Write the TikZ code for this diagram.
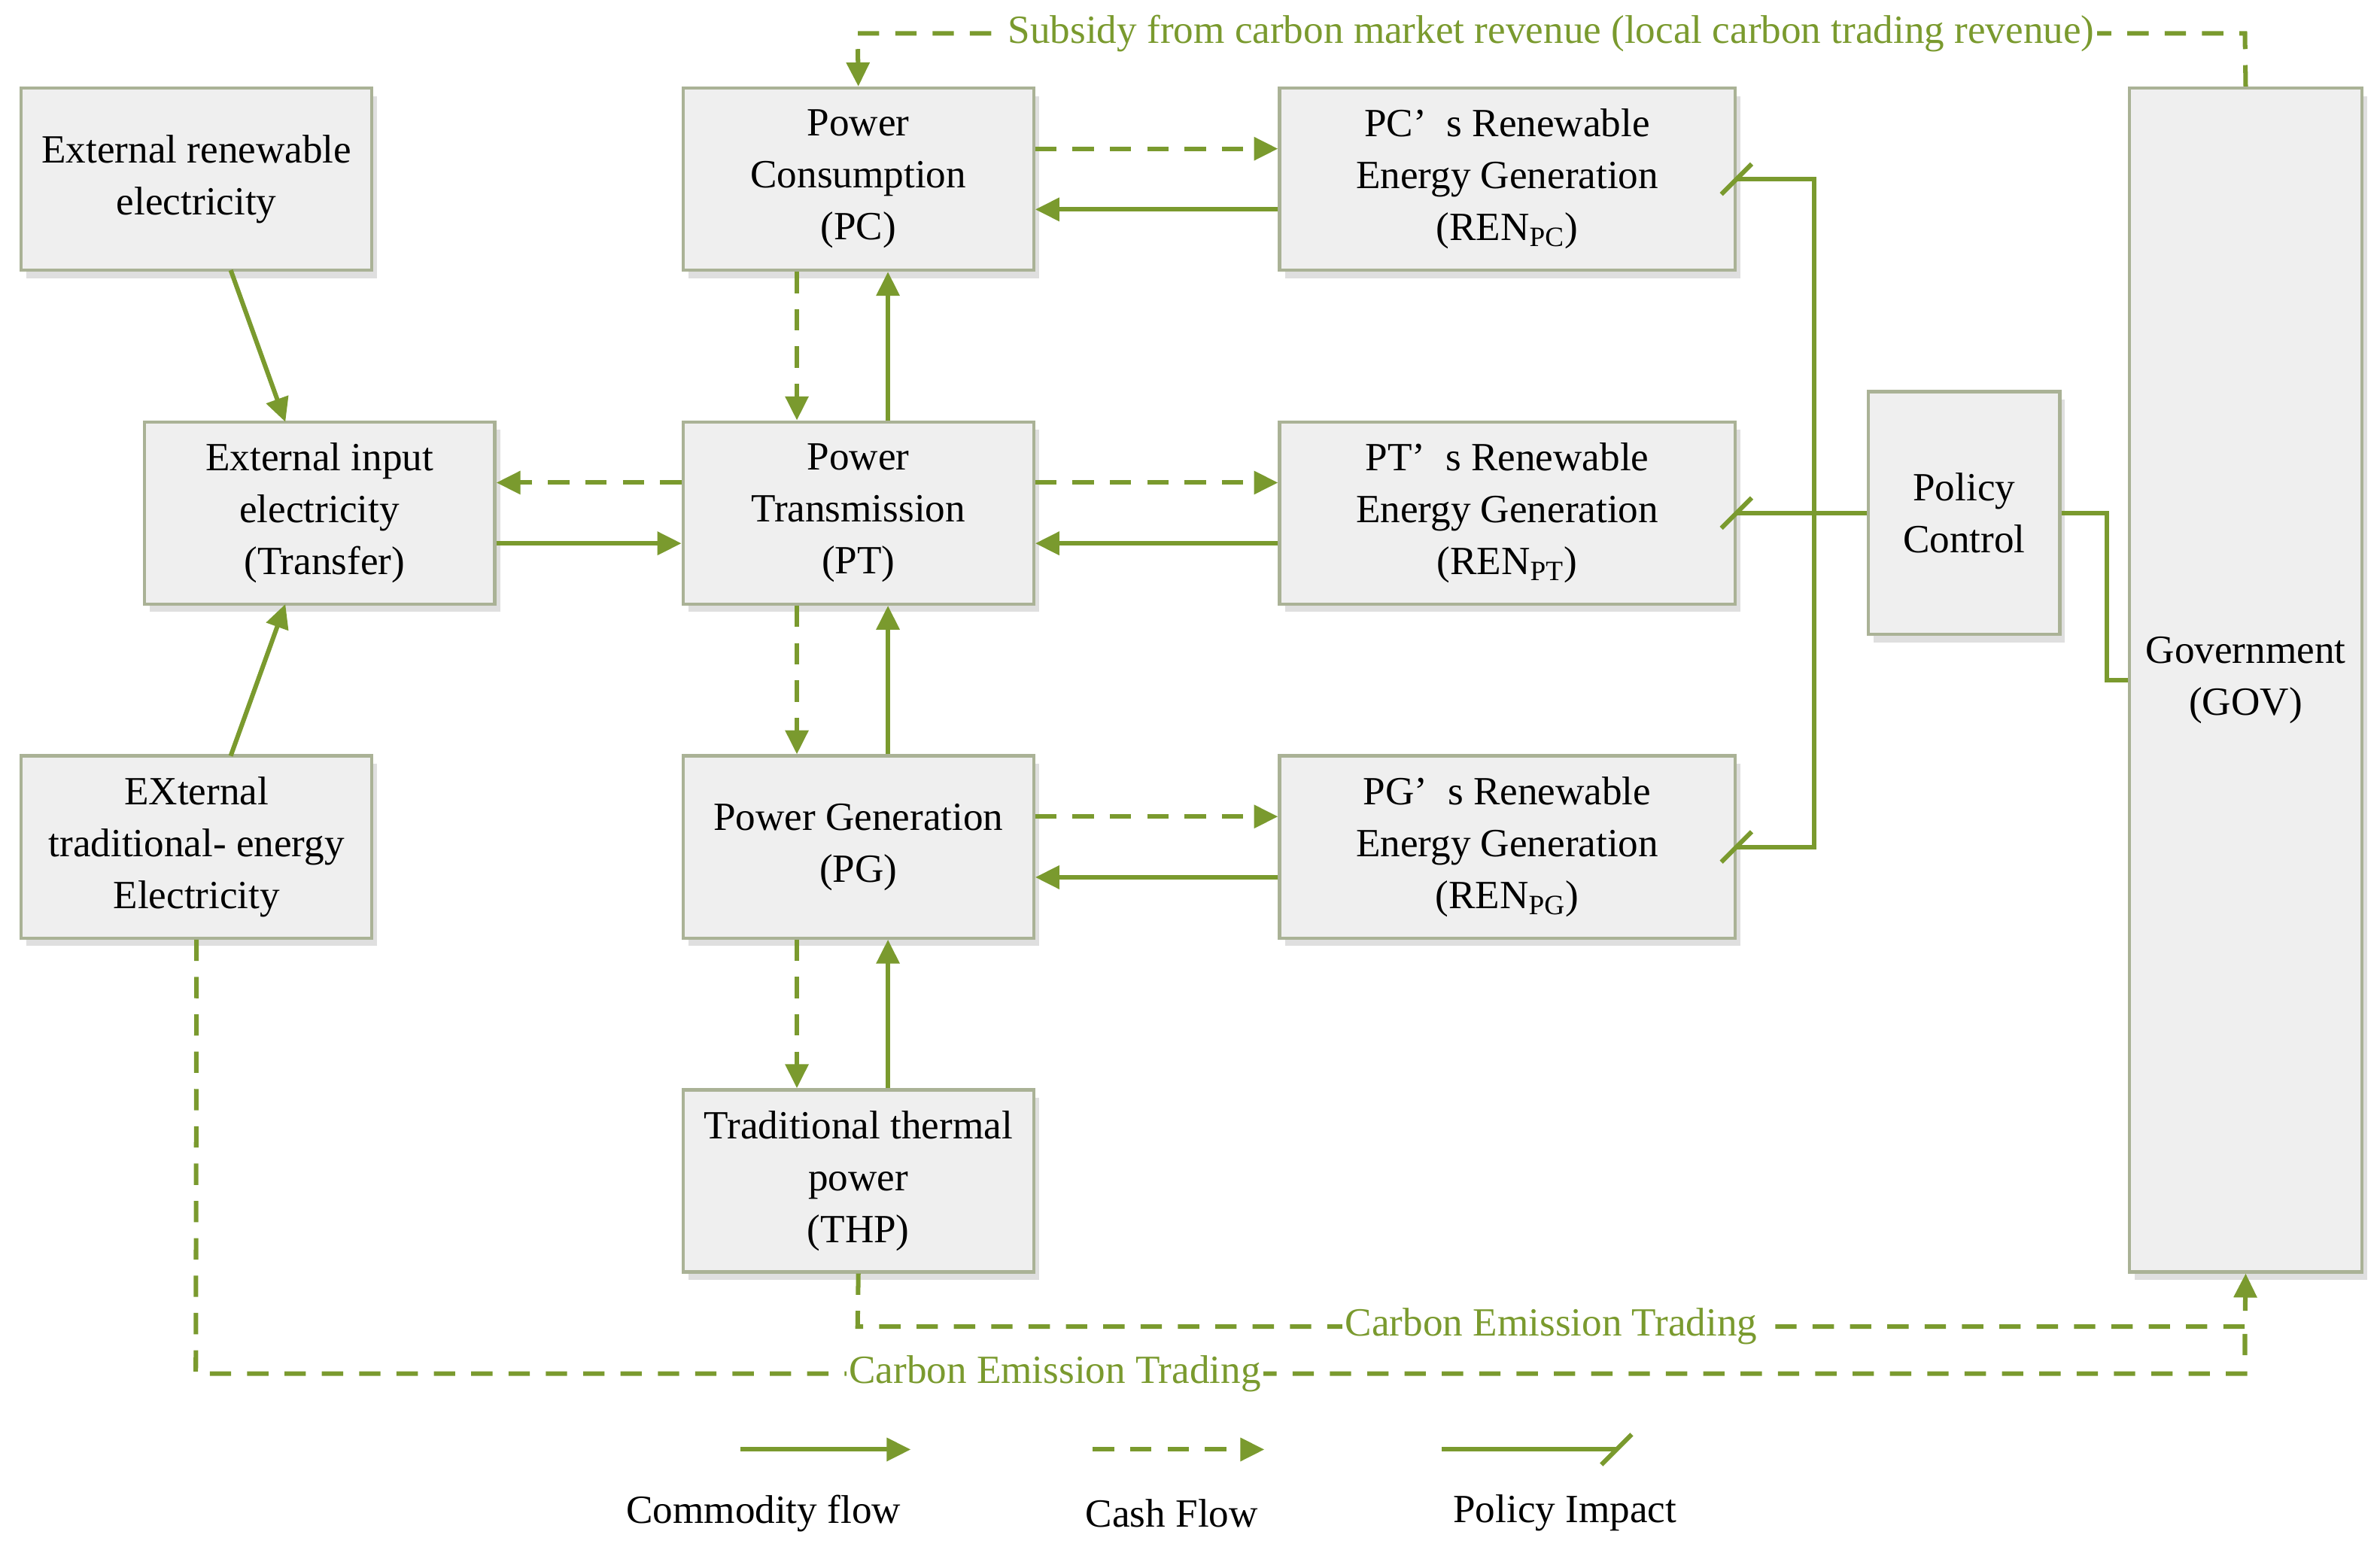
\documentclass[tikz,border=0pt]{standalone}
\usepackage{fontspec}
\setmainfont{Liberation Serif}
\usetikzlibrary{arrows.meta,shadows}
\definecolor{olive}{RGB}{122,154,46}
\definecolor{boxfill}{RGB}{239,239,239}
\definecolor{boxline}{RGB}{170,178,150}
\tikzset{
  blk/.style={draw=boxline, line width=1.2pt, fill=boxfill, align=center, inner sep=0pt,
    drop shadow={shadow xshift=2pt, shadow yshift=-3pt, opacity=.25},
    font=\fontsize{15}{19.5}\selectfont},
  flow/.style={olive, line width=1.7pt, -{Triangle[length=9pt,width=8.5pt]}},
  cash/.style={flow, dash pattern=on 8pt off 6pt},
  pol/.style={olive, line width=1.7pt},
  lbl/.style={olive, fill=white, inner sep=1pt, font=\fontsize{15}{18}\selectfont},
}
\newcommand{\polbar}[1]{\draw[pol] (#1) ++(-10,10) -- ++(20,-20);}
\begin{document}
\begin{tikzpicture}[x=0.02cm, y=-0.02cm]
    \useasboundingbox (0,0) rectangle (1568,1027);
    % boxes
    \node[blk, minimum width=231*0.02cm, minimum height=120*0.02cm] (extren) at (129.5,118) {External renewable\\electricity};
    \node[blk, minimum width=231*0.02cm, minimum height=120*0.02cm] (transfer) at (210.5,338) {External input\\electricity\\\ (Transfer)\ };
    \node[blk, minimum width=231*0.02cm, minimum height=120*0.02cm] (exttrad) at (129.5,558) {EXternal\\traditional- energy\\Electricity};
    \node[blk, minimum width=231*0.02cm, minimum height=120*0.02cm] (pc) at (565.5,118) {Power\\Consumption\\(PC)};
    \node[blk, minimum width=231*0.02cm, minimum height=120*0.02cm] (pt) at (565.5,338) {Power\\Transmission\\(PT)};
    \node[blk, minimum width=231*0.02cm, minimum height=120*0.02cm] (pg) at (565.5,558) {Power Generation\\(PG)};
    \node[blk, minimum width=231*0.02cm, minimum height=120*0.02cm] (thp) at (565.5,778) {Traditional thermal\\power\\(THP)};
    \node[blk, minimum width=300*0.02cm, minimum height=120*0.02cm] (renpc) at (993,118) {PC’\ \ s Renewable\\Energy Generation\\(REN\textsubscript{PC})};
    \node[blk, minimum width=300*0.02cm, minimum height=120*0.02cm] (renpt) at (993,338) {PT’\ \ s Renewable\\Energy Generation\\(REN\textsubscript{PT})};
    \node[blk, minimum width=300*0.02cm, minimum height=120*0.02cm] (renpg) at (993,558) {PG’\ \ s Renewable\\Energy Generation\\(REN\textsubscript{PG})};
    \node[blk, minimum width=126*0.02cm, minimum height=160*0.02cm] (policy) at (1294,338) {Policy\\Control};
    \node[blk, minimum width=153*0.02cm, minimum height=780*0.02cm] (gov) at (1479.5,448) {Government\\(GOV)};

    % commodity and cash flows
    \draw[flow] (152,178) -- (188,278);
    \draw[flow] (152,498) -- (188,398);
    \draw[flow] (transfer.east |- 0,358) -- (pt.west |- 0,358);
    \draw[cash] (pt.west |- 0,318) -- (transfer.east |- 0,318);
    \foreach \a/\b/\y in {pc/renpc/118, pt/renpt/338, pg/renpg/558} {
        \draw[cash] (\a.east |- 0,\y-20) -- (\b.west |- 0,\y-20);
        \draw[flow] (\b.west |- 0,\y+20) -- (\a.east |- 0,\y+20);
    }
    \foreach \a/\b in {pc/pt, pt/pg, pg/thp} {
        \draw[cash] (\a.south -| 525,0) -- (\b.north -| 525,0);
        \draw[flow] (\b.north -| 585,0) -- (\a.south -| 585,0);
    }

    % policy impact
    \coordinate (bus) at (1195,338);
    \draw[pol] (policy.west) -- (bus);
    \draw[pol] (renpc.east) -- (bus |- renpc.east) -- (bus |- renpg.east) -- (renpg.east);
    \draw[pol] (bus) -- (renpt.east);
    \polbar{renpc.east} \polbar{renpt.east} \polbar{renpg.east}
    \draw[pol] (policy.east) -- (1388,338) -- (1388,448) -- (gov.west);

    % subsidy and carbon trading
    \draw[cash] (gov.north) -- (1479,22) -- (565,22) -- (pc.north);
    \node[lbl] (subsidy) at (1022,22) {Subsidy from carbon market revenue (local carbon trading revenue)};
    \draw[cash] (thp.south) -- (565,874) -- (1479,874) -- (gov.south);
    \node[lbl] (cet1) at (1022,874) {Carbon Emission Trading};
    \draw[cash, -] (exttrad.south) -- (129,905) -- (1479,905) -- (1479,874);
    \node[lbl] (cet2) at (695,905) {Carbon Emission Trading};

    % legend
    \coordinate (c1) at (488,955); \coordinate (c2) at (600,955);
    \coordinate (d1) at (720,955); \coordinate (d2) at (833,955);
    \coordinate (p1) at (950,955); \coordinate (p2) at (1065,955);
    \draw[flow] (c1) -- (c2);
    \draw[cash] (d1) -- (d2);
    \draw[pol] (p1) -- (p2); \polbar{p2}
    \node[font=\fontsize{15}{18}\selectfont] (lc) at (503,997) {Commodity flow};
    \node[font=\fontsize{15}{18}\selectfont] (ld) at (772,997) {Cash Flow};
    \node[font=\fontsize{15}{18}\selectfont] (lp) at (1031,997) {Policy Impact};
\end{tikzpicture}
\end{document}
